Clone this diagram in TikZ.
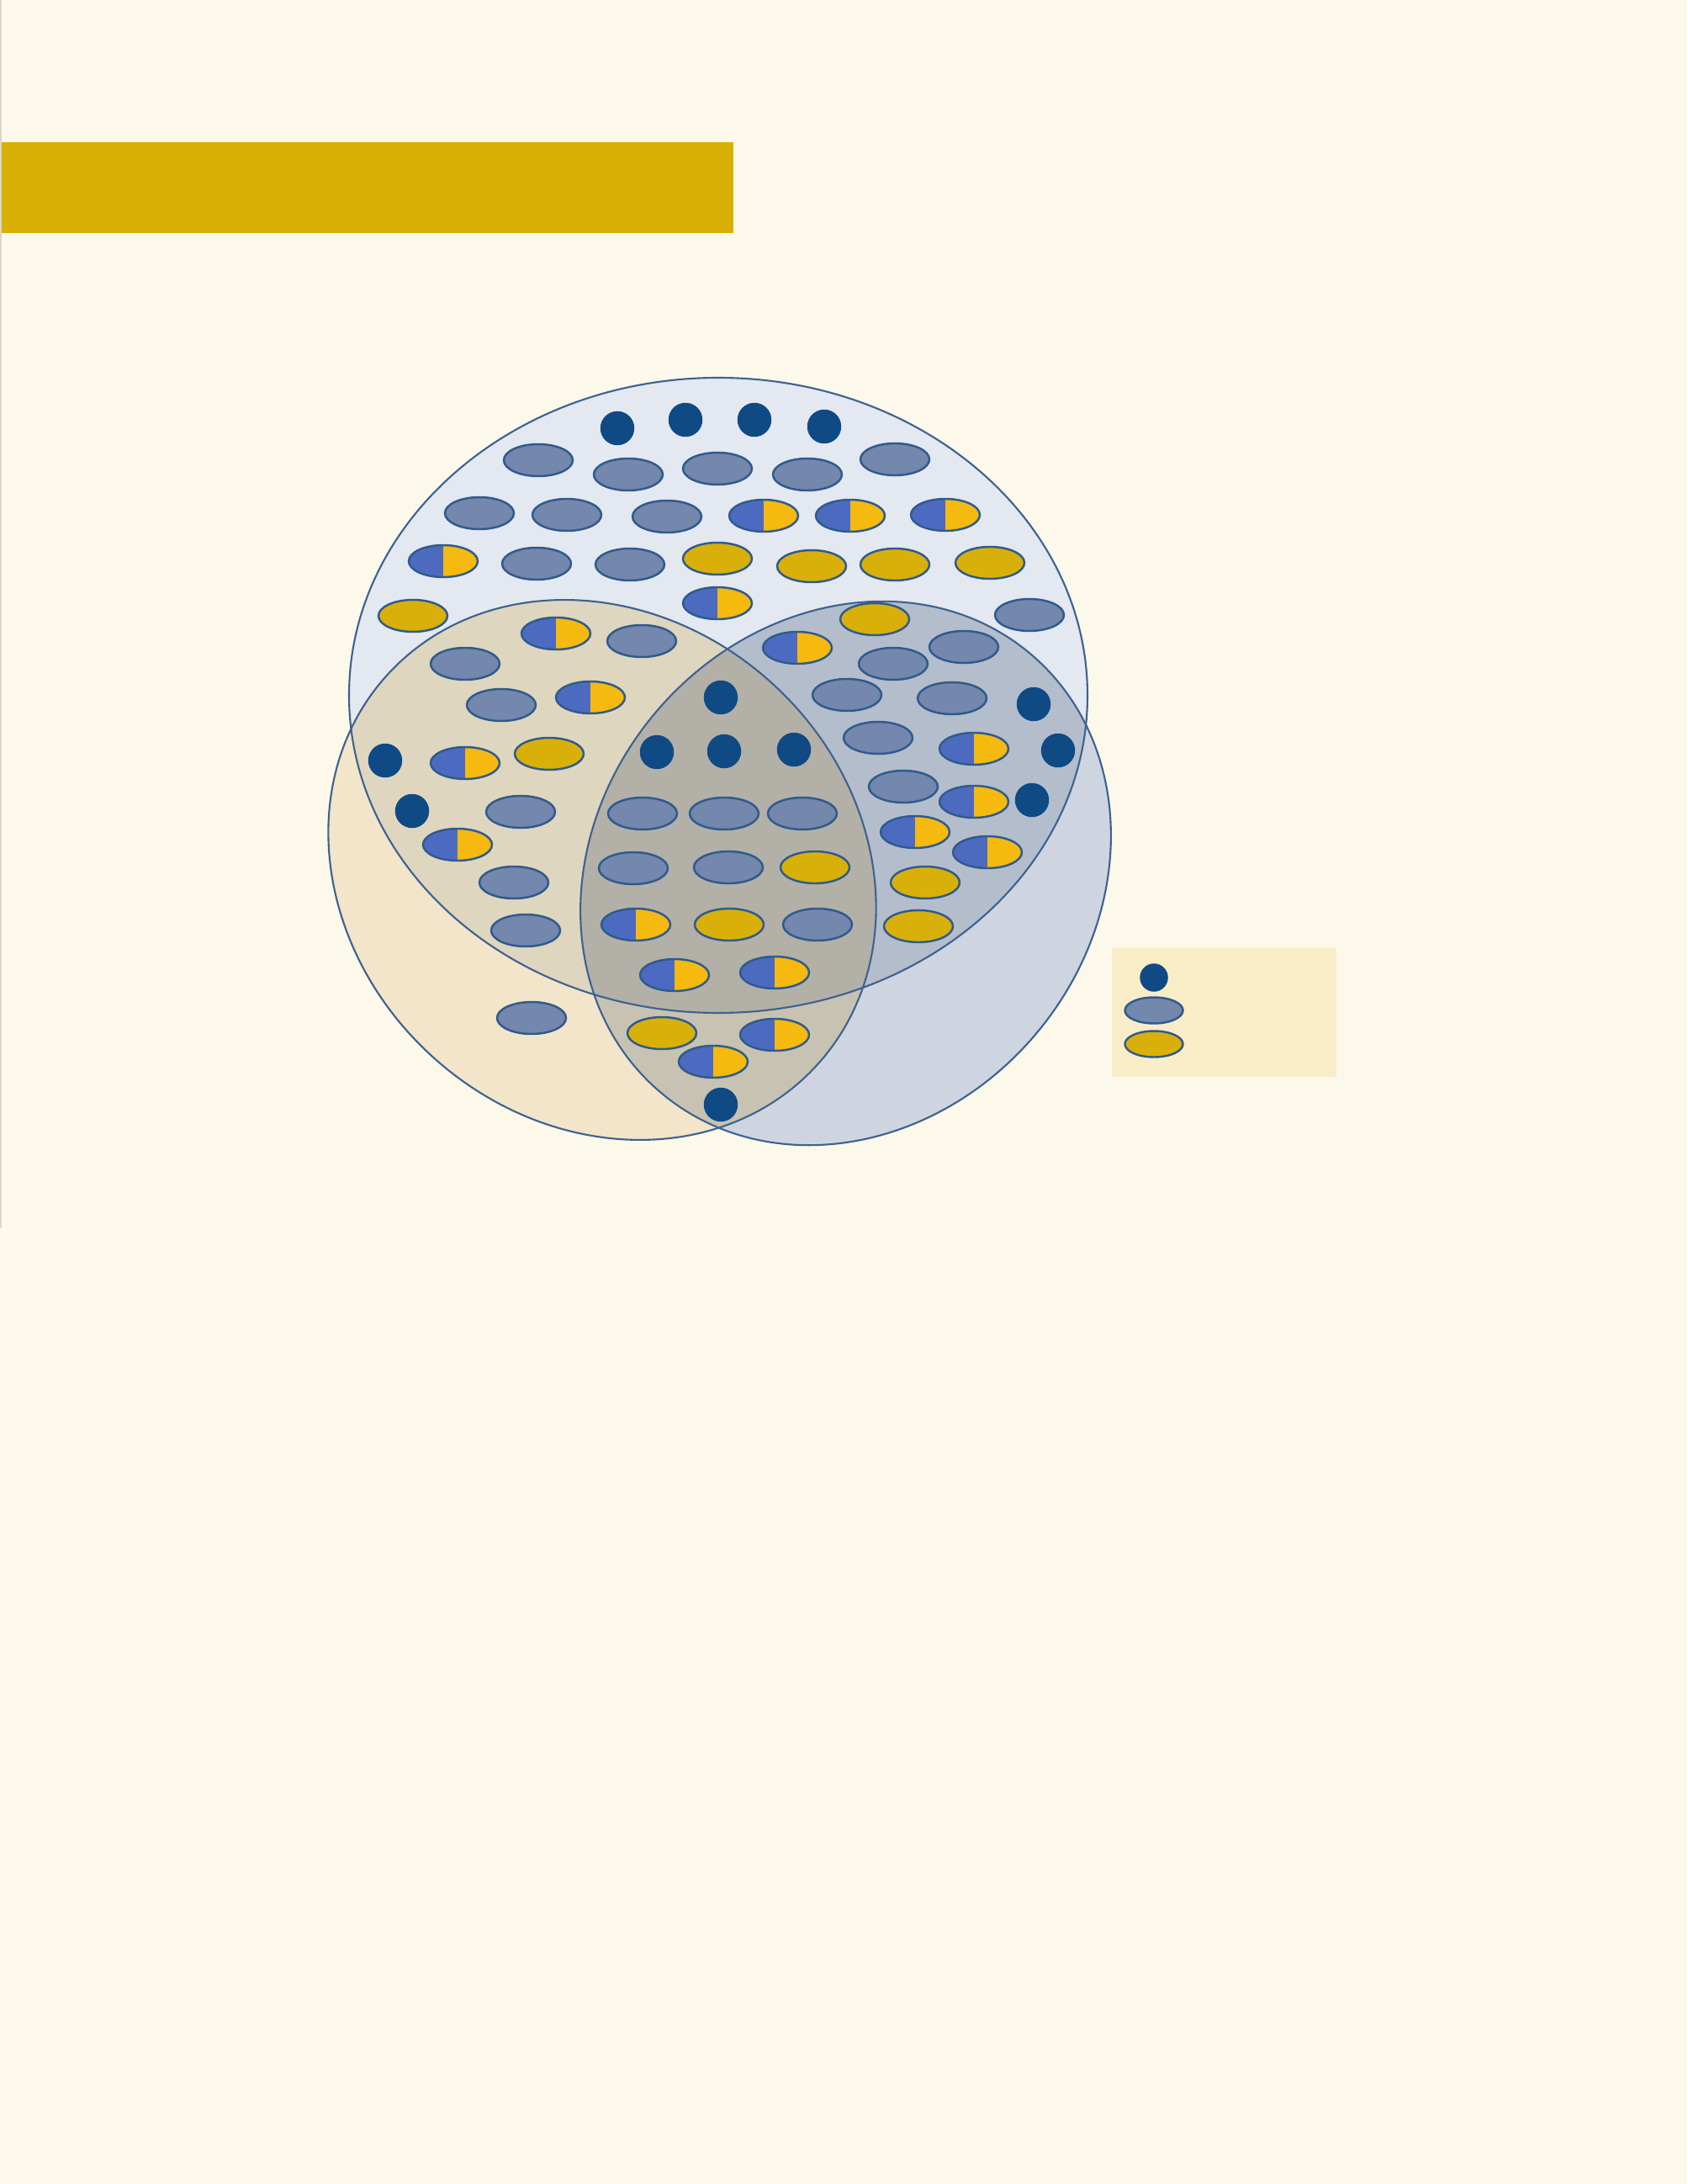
\documentclass[tikz,border=0pt]{standalone}
\usetikzlibrary{shapes.geometric}
\definecolor{paper}{HTML}{FCF8EA}
\definecolor{banner}{HTML}{D9B005}
\definecolor{edgegray}{HTML}{DAD6CB}
\definecolor{vennline}{HTML}{3C6391}
\definecolor{bigonly}{HTML}{E4E8F0}
\definecolor{tanonly}{HTML}{F3E5C9}
\definecolor{blueonly}{HTML}{CFD5E0}
\definecolor{bigtan}{HTML}{DFD6BF}
\definecolor{bigblue}{HTML}{B4BDCC}
\definecolor{tanblue}{HTML}{C8C2B2}
\definecolor{allthree}{HTML}{B3B0A8}
\definecolor{keybox}{HTML}{F9EDC8}
\definecolor{dotblue}{HTML}{0F4A85}
\definecolor{slate}{HTML}{7487AC}
\definecolor{gold}{HTML}{D9B00A}
\definecolor{halfblue}{HTML}{4C6BC0}
\definecolor{halfgold}{HTML}{F5B90F}
\definecolor{tokline}{HTML}{2E5B8C}
\newcommand\bigell{(8.54,8.265) ellipse [x radius=4.39, y radius=3.775]}
\newcommand\tanell{(7.16,10.34) ellipse [x radius=3.45, y radius=3]}
\newcommand\blueell{(10.055,10.38) ellipse [x radius=3.41, y radius=2.96]}
\tikzset{
  tanrot/.style={rotate around={-42:(7.16,10.34)}},
  bluerot/.style={rotate around={50:(10.055,10.38)}},
  venn/.style={draw=vennline, line width=.6pt},
  tok/.style={draw=tokline, line width=.7pt, inner sep=0pt},
  dottok/.style={tok, circle, fill=dotblue, draw=dotblue, minimum size=.38cm},
  graytok/.style={tok, ellipse, fill=slate, minimum width=.82cm, minimum height=.38cm},
  goldtok/.style={graytok, fill=gold},
  halftok/.style={graytok, fill=halfblue, path picture={\fill[halfgold] (path picture bounding box.south) rectangle (path picture bounding box.north east);}}
}
\begin{document}
\begin{tikzpicture}[y=-1cm]
\useasboundingbox (0,0) rectangle (20.06,25.96);
\fill[paper] (0,0) rectangle (20.06,25.96);
\fill[banner] (0,1.69) rectangle (8.72,2.77);
\draw[edgegray, line width=.6pt] (.01,0) -- (.01,14.6);

\fill[tanonly, tanrot] \tanell;
\fill[blueonly, bluerot] \blueell;
\begin{scope}
\clip[tanrot] \tanell;
\fill[tanblue, bluerot] \blueell;
\end{scope}
\begin{scope}
\clip \bigell;
\fill[bigonly] \bigell;
\fill[bigtan, tanrot] \tanell;
\fill[bigblue, bluerot] \blueell;
\clip[tanrot] \tanell;
\fill[allthree, bluerot] \blueell;
\end{scope}
\draw[venn, tanrot] \tanell;
\draw[venn, bluerot] \blueell;
\draw[venn] \bigell;

\foreach \x/\y [count=\i] in {7.34/5.09, 8.15/4.99, 8.97/4.99, 9.80/5.07, 8.57/8.29, 12.29/8.37,
  4.58/9.04, 7.81/8.94, 8.61/8.93, 9.44/8.91, 12.58/8.92, 4.90/9.64, 12.27/9.51, 8.57/13.13}
  \node[dottok] (dot\i) at (\x,\y) {};
\foreach \x/\y [count=\i] in {6.40/5.47, 7.47/5.64, 8.53/5.57, 9.60/5.64, 10.64/5.46,
  5.70/6.10, 6.74/6.12, 7.93/6.14, 6.38/6.70, 7.49/6.71, 12.24/7.31,
  7.63/7.62, 11.46/7.69, 5.53/7.89, 10.62/7.89, 5.96/8.38, 10.07/8.26, 11.32/8.30, 10.44/8.77,
  6.19/9.65, 7.64/9.67, 8.61/9.67, 9.54/9.67, 10.74/9.35, 6.11/10.49, 7.53/10.32, 8.66/10.31,
  6.25/11.06, 9.72/10.99, 6.32/12.10}
  \node[graytok] (gray\i) at (\x,\y) {};
\foreach \x/\y [count=\i] in {8.53/6.64, 9.65/6.73, 10.64/6.71, 11.77/6.69, 4.91/7.32, 10.40/7.36,
  6.53/8.96, 9.69/10.31, 11.00/10.49, 8.67/10.99, 10.92/11.01, 7.87/12.28}
  \node[goldtok] (gold\i) at (\x,\y) {};
\foreach \x/\y [count=\i] in {9.08/6.13, 10.11/6.13, 11.24/6.12, 5.27/6.67, 8.53/7.17,
  6.61/7.53, 9.48/7.70, 7.02/8.29, 5.53/9.07, 11.58/8.90, 11.58/9.53, 10.88/9.89, 11.74/10.13,
  5.44/10.04, 7.56/10.99, 8.02/11.59, 9.21/11.56, 9.21/12.30, 8.48/12.62}
  \node[halftok] (half\i) at (\x,\y) {};

\fill[keybox] (13.22,11.27) rectangle (15.89,12.80);
\node[dottok, minimum size=.31cm] (keydot) at (13.72,11.62) {};
\node[graytok, minimum width=.69cm, minimum height=.31cm] (keygray) at (13.72,12.01) {};
\node[goldtok, minimum width=.69cm, minimum height=.31cm] (keygold) at (13.72,12.41) {};
\end{tikzpicture}
\end{document}
